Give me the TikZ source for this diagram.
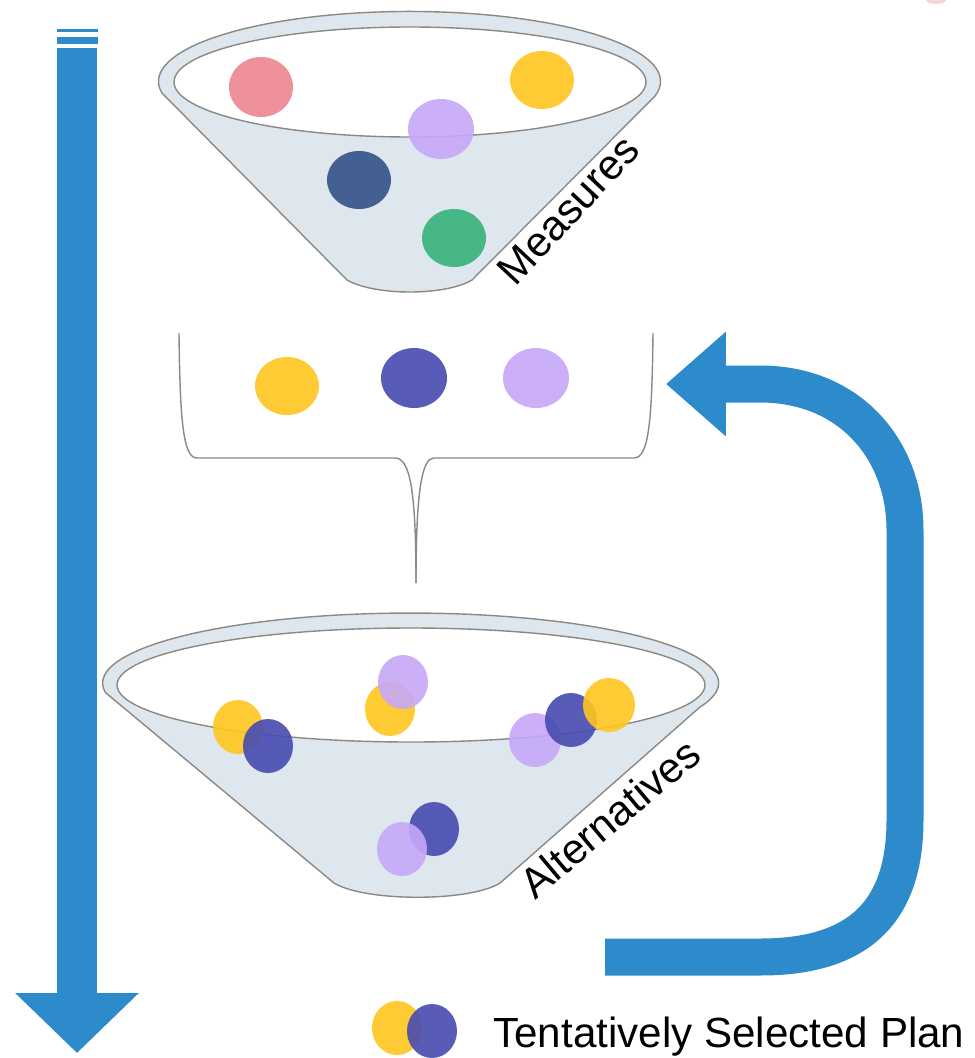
\documentclass[tikz,border=0pt]{standalone}
\usepackage{fontspec}
\setmainfont{Liberation Sans}
\usetikzlibrary{arrows.meta}
\definecolor{funnelfill}{HTML}{DFE7EE}
\definecolor{funneledge}{HTML}{8C8984}
\definecolor{flowblue}{HTML}{2E8BCB}
\definecolor{ballred}{HTML}{EE8690}
\definecolor{ballyellow}{HTML}{FFC61E}
\definecolor{balllilac}{HTML}{C6A8F8}
\definecolor{ballnavy}{HTML}{34528A}
\definecolor{ballgreen}{HTML}{37B37A}
\definecolor{ballindigo}{HTML}{474BB0}
\definecolor{pinkmark}{HTML}{F4B8C0}

\begin{document}
\begin{tikzpicture}[x=0.02cm, y=-0.02cm,
  funnel/.style={draw=funneledge, line width=0.8pt, fill=funnelfill},
  rim/.style={draw=funneledge, line width=0.8pt, fill=white},
  ball/.style={fill=#1, fill opacity=0.9},
  flow/.style={draw=flowblue, line width=0.74cm},
  tag/.style={font=\fontsize{24}{28}\selectfont, inner sep=0pt}]
% Canvas, one unit is one pixel of the reference
\fill[white] (0,0) rectangle (974,1058);
\useasboundingbox (0,0) rectangle (974,1058);
\fill[pinkmark, opacity=0.6] (936,0) ellipse[x radius=10, y radius=4];

% Upper funnel with the measures
\draw[funnel] (163,94) -- (347,280) .. controls (375,296) and (445,296) .. (472,280) -- (655,96) arc[start angle=12, end angle=-190, x radius=251, y radius=70] -- cycle;
\draw[rim] (410,82) ellipse[x radius=236, y radius=55];
\fill[ball=ballred] (261,87) ellipse[x radius=32, y radius=30];
\fill[ball=ballyellow] (542,80) ellipse[x radius=32, y radius=29];
\fill[ball=balllilac] (441,129) ellipse[x radius=33, y radius=30];
\fill[ball=ballnavy] (359,180) ellipse[x radius=32, y radius=29];
\fill[ball=ballgreen] (454,238) ellipse[x radius=32, y radius=29];
\node[tag, rotate=47] (measures) at (568,210) {Measures};

% Bracket with the chosen measures
\draw[funneledge, line width=0.8pt] (179,333) .. controls (180,420) and (183,458) .. (197,458) -- (395,458) .. controls (410,458) and (416,490) .. (416,583);
\draw[funneledge, line width=0.8pt] (653,333) .. controls (652,420) and (649,458) .. (634,458) -- (434,458) .. controls (422,458) and (416,490) .. (416,583);
\fill[ball=ballyellow] (287,386) ellipse[x radius=32, y radius=29];
\fill[ball=ballindigo] (414,378) ellipse[x radius=33, y radius=30];
\fill[ball=balllilac] (536,378) ellipse[x radius=33, y radius=30];

% Lower funnel with the alternatives
\draw[funnel] (106,693) -- (334,883) .. controls (365,902) and (470,902) .. (500,883) -- (700,707) arc[start angle=20, end angle=-188, x radius=308, y radius=70] -- cycle;
\draw[rim] (411,685) ellipse[x radius=294, y radius=57];
\fill[ball=ballyellow] (238,727) ellipse[x radius=25, y radius=27];
\fill[ball=ballindigo] (268,746) ellipse[x radius=25, y radius=27];
\fill[ball=ballyellow] (390,709) ellipse[x radius=25, y radius=27];
\fill[ball=balllilac] (403,682) ellipse[x radius=25, y radius=27];
\fill[ball=balllilac] (535,740) ellipse[x radius=26, y radius=27];
\fill[ball=ballindigo] (571,720) ellipse[x radius=26, y radius=27];
\fill[ball=ballyellow] (609,705) ellipse[x radius=26, y radius=27];
\fill[ball=ballindigo] (434,829) ellipse[x radius=25, y radius=27];
\fill[ball=balllilac] (402,849) ellipse[x radius=25, y radius=27];
\node[tag, rotate=40] (alternatives) at (610,818) {Alternatives};

% Flow arrows
\coordinate (flowtop) at (77,48);
\coordinate (flowend) at (77,1053);
\fill[flowblue] (57,29) rectangle (98,32);
\fill[flowblue] (57,37) rectangle (98,44);
\draw[flow, line width=0.82cm, -{Triangle[width=2.4cm, length=1.2cm]}] (flowtop) -- (flowend);
\coordinate (loopstart) at (605,957);
\coordinate (looptip) at (666,384);
\draw[flow, -{Triangle[width=2.02cm, length=1.2cm]}] (loopstart) -- (760,957) .. controls (850,957) and (905,920) .. (905,820) -- (905,530) .. controls (905,450) and (850,384) .. (760,384) -- (looptip);

% Legend
\fill[ball=ballyellow] (397,1028) ellipse[x radius=25, y radius=27];
\fill[ball=ballindigo] (432,1031) ellipse[x radius=25, y radius=27];
\node[tag, anchor=base west] (planlabel) at (493,1047) {Tentatively Selected Plan};
\end{tikzpicture}
\end{document}
